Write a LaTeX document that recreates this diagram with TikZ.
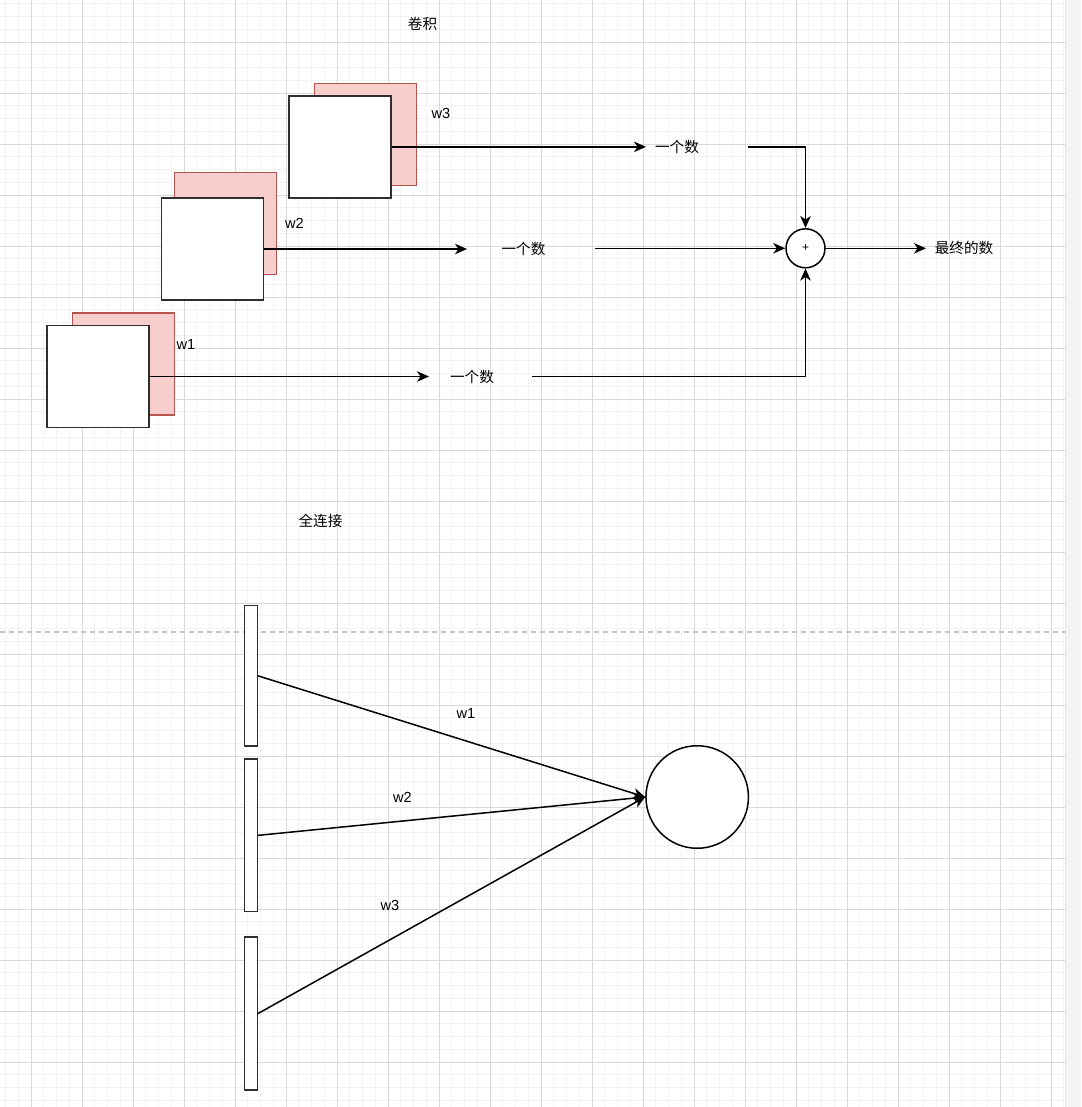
\documentclass[tikz,border=0pt]{standalone}
\usepackage{fontspec}
\setmainfont{Liberation Sans}
\newfontfamily\cjk{Noto Sans CJK SC}
\usetikzlibrary{arrows.meta}
\definecolor{minorgrid}{HTML}{F3F3F3}
\definecolor{majorgrid}{HTML}{D9D9D9}
\definecolor{pinkfill}{HTML}{F8CECC}
\definecolor{pinkline}{HTML}{B85450}
\definecolor{darkline}{HTML}{2E2E2E}
\definecolor{sepline}{HTML}{C4C4C4}
\definecolor{sidestrip}{HTML}{F4F4F4}
\tikzset{
  pinksq/.style={draw=pinkline, fill=pinkfill, line width=1.3pt, minimum width=102pt, minimum height=102pt, inner sep=0pt},
  whitesq/.style={draw=darkline, fill=white, line width=1.5pt, minimum width=102pt, minimum height=102pt, inner sep=0pt},
  bar/.style={draw=darkline, fill=white, line width=1.5pt, minimum width=13pt, inner sep=0pt},
  conn/.style={line width=1.5pt, -{Stealth[length=12pt, width=10.5pt, inset=3.5pt]}},
  lbl/.style={inner sep=0pt, font=\fontsize{14.6}{17}\selectfont},
  cjklbl/.style={inner sep=0pt, font=\fontsize{14.6}{17}\selectfont\cjk},
}
\begin{document}
\begin{tikzpicture}[x=1pt, y=-1pt]
\useasboundingbox (0,0) rectangle (1081,1107);
% background grid
\fill[white] (0,0) rectangle (1065,1107);
\foreach \i in {0,...,83} {\draw[minorgrid, line width=1pt] ({5.5+12.75*\i},0) -- ({5.5+12.75*\i},1107);}
\foreach \j in {0,...,86} {\draw[minorgrid, line width=1pt] (0,{3.95+12.75*\j}) -- (1065,{3.95+12.75*\j});}
\foreach \i in {0,...,20} {\draw[majorgrid, line width=1pt] ({31+51*\i},0) -- ({31+51*\i},1107);}
\foreach \j in {0,...,21} {\draw[majorgrid, line width=1pt] (0,{42.2+51*\j}) -- (1065,{42.2+51*\j});}
\fill[sidestrip] (1065,0) rectangle (1081,1107);
\draw[majorgrid!70, line width=1pt] (1065.5,0) -- (1065.5,1107);
% separator
\draw[sepline, line width=1.3pt, dash pattern=on 5pt off 4pt] (0,632) -- (1065,632);

% ---------- convolution ----------
\node[cjklbl] (title1) at (422.5,24) {卷积};

\node[pinksq] (p3) at (365.5,134.3) {};
\node[whitesq] (s3) at (340,146.85) {};
\node[pinksq] (p2) at (225.5,223.7) {};
\node[whitesq] (s2) at (212.7,249) {};
\node[pinksq] (p1) at (123.3,363.85) {};
\node[whitesq] (s1) at (97.85,376.5) {};

\node[lbl] (w3a) at (441,113) {w3};
\node[lbl] (w2a) at (294.5,223) {w2};
\node[lbl] (w1a) at (186,344) {w1};

\node[cjklbl] (n3) at (677,146.5) {一个数};
\node[cjklbl] (n2) at (523.5,248.5) {一个数};
\node[cjklbl] (n1) at (472,376.5) {一个数};

\coordinate (a3) at (646,146.85);
\coordinate (a2) at (467,249);
\coordinate (a1) at (429,376.5);
\coordinate (r3) at (748,146.85);
\coordinate (r2) at (595,248.3);
\coordinate (r1) at (532,376.5);

\node[circle, draw=black, fill=white, line width=1.5pt, minimum size=39pt, inner sep=0pt] (sum) at (805.5,248.3) {};
\node[inner sep=0pt, font=\fontsize{12}{14}\selectfont] (plus) at (sum) {+};

\draw[conn] (s3.east) -- (a3);
\draw[conn] (s2.east) -- (a2);
\draw[conn] (s1.east) -- (a1);
\draw[conn] (r3) -| (sum.north);
\draw[conn] (r2) -- (sum.west);
\draw[conn] (r1) -| (sum.south);

\coordinate (outend) at (926,248.3);
\draw[conn] (sum.east) -- (outend);
\node[cjklbl] (final) at (964,248.3) {最终的数};

% ---------- fully connected ----------
\node[cjklbl] (title2) at (320.5,521) {全连接};

\node[bar, minimum height=140.3pt] (b1) at (250.8,675.85) {};
\node[bar, minimum height=152.7pt] (b2) at (250.8,835.35) {};
\node[bar, minimum height=153pt] (b3) at (250.8,1013.5) {};

\node[circle, draw=black, fill=white, line width=1.5pt, minimum size=102.5pt, inner sep=0pt] (neuron) at (697.2,797) {};

\draw[conn] (b1.east) -- (neuron.west);
\draw[conn] (b2.east) -- (neuron.west);
\draw[conn] (b3.east) -- (neuron.west);

\node[lbl] (fw1) at (466,713) {w1};
\node[lbl] (fw2) at (402.5,797) {w2};
\node[lbl] (fw3) at (390,905) {w3};
\end{tikzpicture}
\end{document}
